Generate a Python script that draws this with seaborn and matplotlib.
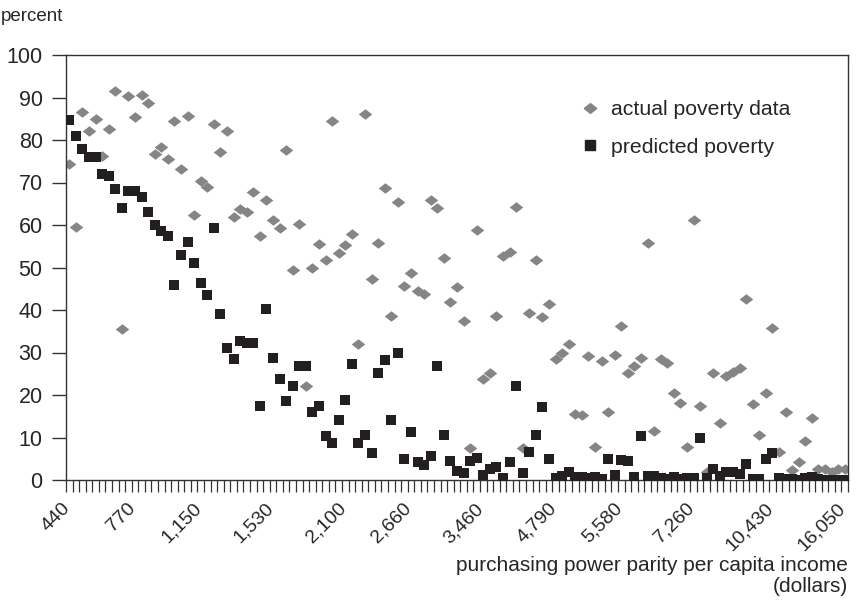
import numpy as np
import pandas as pd
import matplotlib
matplotlib.use("Agg")
import matplotlib.pyplot as plt
import matplotlib.transforms as mtransforms
import seaborn as sns
from matplotlib.ticker import FixedLocator, NullFormatter
from matplotlib.lines import Line2D

# ---------------- data ----------------
actual_poverty = [
    74.4, 59.6, 86.7, 82.2, 84.9, 76.2, 82.7, 91.6, 35.5, 90.4,
    85.3, 90.7, 88.8, 76.7, 78.4, 75.5, 84.5, 73.2, 85.6, 62.3,
    70.4, 68.9, 83.8, 77.1, 82.2, 62.0, 63.7, 63.1, 67.7, 57.3,
    66.0, 61.2, 59.2, 77.6, 49.3, 60.2, 22.2, 50.0, 55.5, 51.8,
    84.5, 53.3, 55.3, 57.8, 31.9, 86.1, 47.3, 55.8, 68.6, 38.6,
    65.5, 45.6, 48.8, 44.5, 43.8, 66.0, 64.1, 52.2, 42.0, 45.3,
    37.5, 7.6, 58.8, 23.7, 25.1, 38.6, 52.8, 53.7, 64.3, 7.6,
    39.4, 51.8, 38.4, 41.4, 28.5, 30.0, 32.0, 15.5, 15.3, 29.2,
    7.8, 28.0, 15.9, 29.4, 36.3, 25.1, 26.8, 28.8, 55.7, 11.6,
    28.4, 27.5, 20.5, 18.2, 7.8, 61.2, 17.4, 2.0, 25.1, 13.5,
    24.5, 25.5, 26.4, 42.5, 17.8, 10.6, 20.4, 35.8, 6.7, 16.1,
    2.4, 4.2, 9.2, 14.7, 2.5, 2.5, 2.0, 2.5, 2.5,
]
predicted_poverty = [
    84.7, 81.0, 78.0, 76.0, 76.0, 72.0, 71.5, 68.5, 64.0, 68.0,
    68.0, 66.5, 63.0, 60.0, 58.5, 57.5, 46.0, 52.9, 56.0, 51.0,
    46.3, 43.5, 59.3, 39.0, 31.0, 28.4, 32.7, 32.2, 32.2, 17.4,
    40.2, 28.7, 23.7, 18.6, 22.1, 26.9, 26.9, 16.0, 17.5, 10.4,
    8.7, 14.1, 18.8, 27.4, 8.7, 10.5, 6.4, 25.1, 28.2, 14.1,
    30.0, 4.9, 11.2, 4.3, 3.5, 5.7, 26.9, 10.7, 4.5, 2.2,
    1.6, 4.5, 5.1, 1.2, 2.6, 3.1, 0.4, 4.2, 22.2, 1.6,
    6.5, 10.7, 17.2, 5.0, 0.4, 0.9, 2.0, 0.6, 0.6, 0.5,
    0.6, 0.3, 4.9, 1.2, 4.7, 4.5, 0.8, 10.4, 1.0, 1.0,
    0.5, 0.2, 0.6, 0.3, 0.5, 0.4, 10.0, 0.4, 2.5, 1.0,
    2.0, 2.0, 1.5, 3.7, 0.2, 0.3, 4.9, 6.4, 0.5, 0.3,
    0.2, 0.1, 0.5, 0.8, 0.2, 0.1, 0.1, 0.1, 0.1,
]
income_labels = ["440", "770", "1,150", "1,530", "2,100", "2,660",
                 "3,460", "4,790", "5,580", "7,260", "10,430", "16,050"]
label_category = [0, 10, 20, 31, 42, 52, 63, 74, 84, 95, 107, 118]
series_names = ["actual poverty data", "predicted poverty"]

n = len(actual_poverty)
df = pd.DataFrame({
    "category": list(range(n)) * 2,
    "percent": actual_poverty + predicted_poverty,
    "series": [series_names[0]] * n + [series_names[1]] * n,
})

# ---------------- style ----------------
sns.set_style("white")
plt.rcParams["font.family"] = ["Liberation Sans", "DejaVu Sans"]

W, H = 856, 605
fig = plt.figure(figsize=(W / 100, H / 100), dpi=100)
ax = fig.add_axes([66 / W, 1 - 480 / H, (848 - 66) / W, (480 - 55) / H])

diamond = [(-1, 0), (0, 0.78), (1, 0), (0, -0.78), (-1, 0)]
gray = "#858585"
black = "#231f20"

sns.scatterplot(data=df[df.series == series_names[0]], x="category", y="percent",
                color=gray, marker=diamond, s=95, linewidth=0, ax=ax,
                legend=False, zorder=2)
sns.scatterplot(data=df[df.series == series_names[1]], x="category", y="percent",
                color=black, marker="s", s=62, linewidth=0, ax=ax,
                legend=False, zorder=3)

ax.set_xlim(-0.5, n - 0.5)
ax.set_ylim(0, 100)
ax.set_yticks(np.arange(0, 101, 10))
ax.tick_params(axis="y", which="major", direction="out", length=9.8, width=1,
               color="#333333", labelsize=15.5, pad=7, left=True)

ax.xaxis.set_major_locator(FixedLocator(label_category))
ax.xaxis.set_minor_locator(FixedLocator(np.arange(-0.5, n, 1.0)))
ax.xaxis.set_minor_formatter(NullFormatter())
ax.tick_params(axis="x", which="major", length=0, pad=14.4, bottom=True)
ax.tick_params(axis="x", which="minor", direction="out", length=8.6, width=0.9,
               color="#333333", bottom=True)
ax.set_xticklabels(income_labels, rotation=45, ha="right", va="top",
                   rotation_mode="anchor", fontsize=14)
shift = mtransforms.ScaledTranslation(-8 / 100, 0, fig.dpi_scale_trans)
for lab in ax.get_xticklabels():
    lab.set_transform(lab.get_transform() + shift)

for sp in ax.spines.values():
    sp.set_visible(True)
    sp.set_color("#333333")
    sp.set_linewidth(1.0)

ax.set_xlabel("")
ax.set_ylabel("")

fig.text(1 / W, 1 - 8 / H, "percent", ha="left", va="top", fontsize=13.5)
fig.text(848 / W, 1 - 556 / H,
         "purchasing power parity per capita income\n(dollars)",
         ha="right", va="top", fontsize=15, multialignment="right",
         linespacing=1.1)

handles = [
    Line2D([], [], linestyle="none", marker=diamond, color=gray, markersize=9),
    Line2D([], [], linestyle="none", marker="s", color=black, markersize=7.5),
]
ax.legend(handles, series_names, loc="upper left",
          bbox_to_anchor=(580 / W, 1 - 100 / H), bbox_transform=fig.transFigure,
          frameon=False, fontsize=15.3, handlelength=0.9, handletextpad=0.55,
          labelspacing=0.89, borderpad=0, borderaxespad=0)

fig.savefig("out.png", dpi=100)
